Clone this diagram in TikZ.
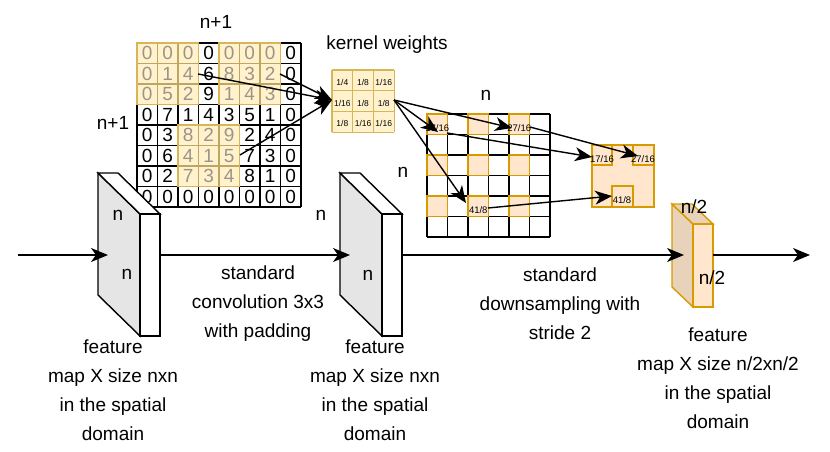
\documentclass[tikz,border=0pt]{standalone}
\usepackage{fontspec}
\setmainfont{Liberation Sans}
\usetikzlibrary{arrows.meta}
\definecolor{tanf}{HTML}{FFF2CC}
\definecolor{tand}{HTML}{D6B656}
\definecolor{orf}{HTML}{FFE6CC}
\definecolor{ord}{HTML}{D79B00}
\definecolor{orside}{HTML}{E8D2BA}
\definecolor{grey}{HTML}{9E9486}
\tikzset{
  arr/.style={line width=1.4pt,-{Stealth[length=17pt,width=14pt,inset=5pt]}},
  lbl/.style={font=\fontsize{19}{29}\selectfont,align=center,inner sep=0},
  gnum/.style={font=\fontsize{19}{19}\selectfont,inner sep=0},
  knum/.style={font=\fontsize{8.5}{9}\selectfont,inner sep=0},
  snum/.style={font=\fontsize{9.5}{10}\selectfont,inner sep=0},
}
\begin{document}
\begin{tikzpicture}[x=1pt,y=-1pt]
\useasboundingbox (0,0) rectangle (830,452);
% ---- input grid
\def\gx{137}\def\gy{43}\def\gc{20.5}
\foreach \r/\c in {0/0,0/1,0/2,1/0,1/1,1/2,2/0,2/1,2/2,0/4,0/5,0/6,1/4,1/5,1/6,2/4,2/5,2/6,4/2,4/3,4/4,5/2,5/3,5/4,6/2,6/3,6/4}
  \fill[tanf] (\gx+\c*\gc,\gy+\r*\gc) rectangle ++(\gc,\gc);
\foreach \i in {0,...,8}{
  \draw[line width=1.6pt] (\gx+\i*\gc,\gy) -- (\gx+\i*\gc,\gy+8*\gc);
  \draw[line width=1.6pt] (\gx,\gy+\i*\gc) -- (\gx+8*\gc,\gy+\i*\gc);}
\foreach \r/\c in {0/0,0/1,0/2,1/0,1/1,1/2,2/0,2/1,2/2,0/4,0/5,0/6,1/4,1/5,1/6,2/4,2/5,2/6,4/2,4/3,4/4,5/2,5/3,5/4,6/2,6/3,6/4}
  \draw[tand!70!gray,line width=1.6pt] (\gx+\c*\gc,\gy+\r*\gc) rectangle ++(\gc,\gc);
\foreach \c/\r in {0/0,4/0,2/4}
  \draw[tand,line width=1.6pt] (\gx+\c*\gc,\gy+\r*\gc) rectangle ++(3*\gc,3*\gc);
\foreach \row [count=\r from 0] in {{0,0,0,0,0,0,0,0},{0,1,4,6,8,3,2,0},{0,5,2,9,1,4,3,0},{0,7,1,4,3,5,1,0},{0,3,8,2,9,2,4,0},{0,6,4,1,5,7,3,0},{0,2,7,3,4,8,1,0},{0,0,0,0,0,0,0,0}}{
  \foreach \v [count=\c from 0] in \row {
    \pgfmathtruncatemacro\hl{((\r<3)&&(\c<3))||((\r<3)&&(\c>3)&&(\c<7))||((\r>3)&&(\r<7)&&(\c>1)&&(\c<5))}
    \ifnum\hl=1 \def\tc{grey}\else\def\tc{black}\fi
    \node[gnum,text=\tc] at (\gx+\c*\gc+\gc/2,\gy+\r*\gc+\gc/2) {\v};}}
\node[lbl] at (216,22) {n+1};
\node[lbl] at (113,123) {n+1};
\coordinate (s1) at (198,74);
\coordinate (s2) at (280,74);
\coordinate (s3) at (240,155);
% ---- kernel
\def\kx{332}\def\ky{70}\def\kc{20.7}
\fill[tanf] (\kx,\ky) rectangle ++(3*\kc,3*\kc);
\foreach \i in {0,...,3}{
  \draw[tand,line width=1.2pt] (\kx+\i*\kc,\ky) -- (\kx+\i*\kc,\ky+3*\kc);
  \draw[tand,line width=1.2pt] (\kx,\ky+\i*\kc) -- (\kx+3*\kc,\ky+\i*\kc);}
\foreach \row [count=\r from 0] in {{1/4,1/8,1/16},{1/16,1/8,1/8},{1/8,1/16,1/16}}{
  \foreach \v [count=\c from 0] in \row
    \node[knum] at (\kx+\c*\kc+\kc/2,\ky+\r*\kc+\kc/2+2) {\v};}
\node[lbl] at (387,45) {kernel weights};
\coordinate (kin) at (332,100);
\coordinate (kout) at (394,100);
% ---- middle grid
\def\mx{427}\def\my{114}\def\mc{20.5}
\foreach \r in {0,2,4}\foreach \c in {0,2,4}
  \fill[orf] (\mx+\c*\mc,\my+\r*\mc) rectangle ++(\mc,\mc);
\foreach \i in {0,...,6}{
  \draw[line width=1.6pt] (\mx+\i*\mc,\my) -- (\mx+\i*\mc,\my+6*\mc);
  \draw[line width=1.6pt] (\mx,\my+\i*\mc) -- (\mx+6*\mc,\my+\i*\mc);}
\foreach \r in {0,2,4}\foreach \c in {0,2,4}
  \draw[ord,line width=1.4pt] (\mx+\c*\mc,\my+\r*\mc) rectangle ++(\mc,\mc);
\node[snum] (m1) at (\mx+\mc/2,\my+\mc/2+4) {17/16};
\node[snum] (m2) at (\mx+4.5*\mc,\my+\mc/2+4) {27/16};
\node[snum] (m3) at (\mx+2.5*\mc,\my+4.5*\mc+4) {41/8};
\node[lbl] at (486,95) {n};
\node[lbl] at (403,172) {n};
% ---- output
\draw[ord,fill=orf,line width=1.4pt] (592,145) rectangle (654,207);
\draw[ord,line width=1.4pt] (592,145) rectangle (612,165);
\draw[ord,line width=1.4pt] (633,145) rectangle (654,165);
\draw[ord,line width=1.4pt] (612,186) rectangle (633,207);
\node[snum] (o1) at (602,159) {17/16};
\node[snum] (o2) at (643,159) {27/16};
\node[snum] (o3) at (622,200) {41/8};
% ---- arrows in top part
\draw[arr] (s1) -- (kin);
\draw[arr] (s2) -- (kin);
\draw[arr] (s3) -- (kin);
\draw[arr] (kout) -- (438,132);
\draw[arr] (kout) -- (512,128);
\draw[arr] (kout) -- (466,203);
\draw[arr] (447,133) -- (592,157);
\draw[arr] (530,127) -- (638,156);
\draw[arr] (488,208) -- (612,196);
% ---- cubes
\foreach \x in {98,340}{
  \draw[line width=1.4pt,fill=black!10] (\x,173) -- (\x+42,214) -- (\x+42,336) -- (\x,295) -- cycle;
  \draw[line width=1.4pt,fill=white] (\x,173) -- (\x+20,173) -- (\x+62,214) -- (\x+42,214) -- cycle;
  \draw[line width=1.4pt,fill=white] (\x+42,214) rectangle (\x+62,336);}
\coordinate (c1b) at (108,255);
\coordinate (c1f) at (160,255);
\coordinate (c2b) at (350,255);
\coordinate (c2f) at (401,255);
\node[lbl] at (118,215) {n};
\node[lbl] at (127,274) {n};
\node[lbl] at (321,215) {n};
\node[lbl] at (368,275) {n};
\draw[ord,line width=1.4pt,fill=orside] (672,204) -- (693,224) -- (693,307) -- (672,287) -- cycle;
\draw[ord,line width=1.4pt,fill=orside] (672,204) -- (692,204) -- (713,224) -- (693,224) -- cycle;
\draw[ord,line width=1.4pt,fill=orf] (693,224) rectangle (713,307);
\node[lbl] at (694,207) {n/2};
\node[lbl] at (712,278) {n/2};
\coordinate (in) at (18,255);
\coordinate (c3b) at (684,255);
\coordinate (c3f) at (713,255);
\coordinate (out) at (810,255);
\draw[arr] (in) -- (c1b);
\draw[arr] (c1f) -- (c2b);
\draw[arr] (c2f) -- (c3b);
\draw[arr] (c3f) -- (out);
% ---- labels
\node[lbl] at (258,304) {standard\\convolution 3x3\\with padding};
\node[lbl] at (560,304) {standard\\downsampling with\\stride 2};
\node[lbl] at (113,390) {feature\\map X size nxn\\in the spatial\\domain};
\node[lbl] at (375,390) {feature\\map X size nxn\\in the spatial\\domain};
\node[lbl] at (718,378) {feature\\map X size n/2xn/2\\in the spatial\\domain};
\end{tikzpicture}
\end{document}
